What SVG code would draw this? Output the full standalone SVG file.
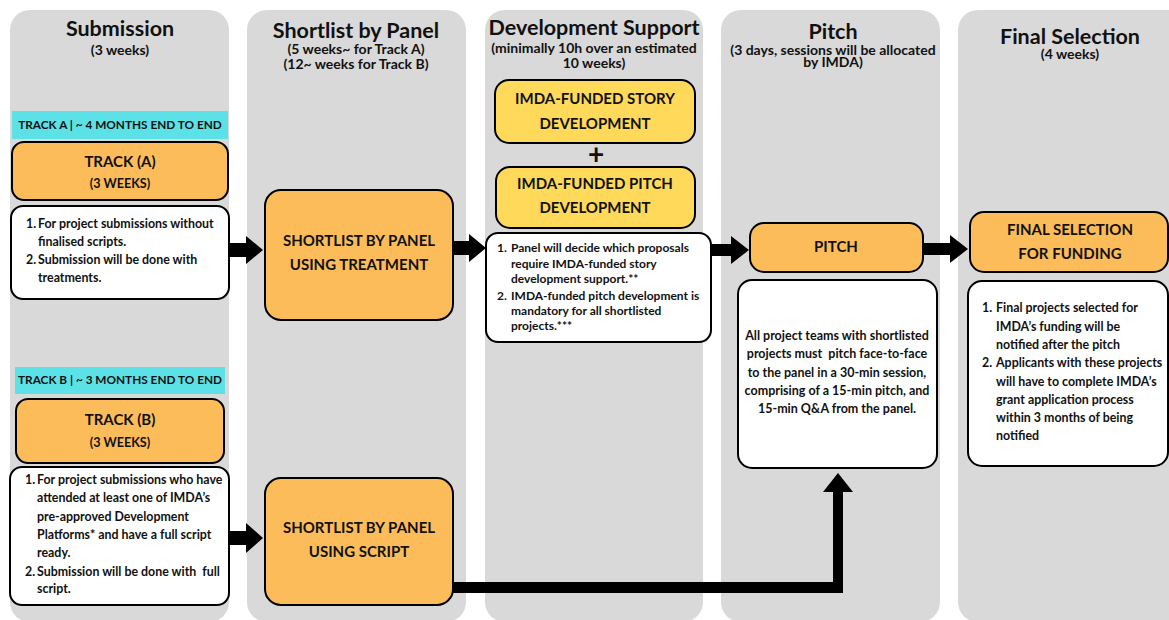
<svg xmlns="http://www.w3.org/2000/svg" width="1169" height="620" viewBox="0 0 1169 620">
<style>
text{font-family:Lato,"Liberation Sans",sans-serif;font-weight:700;fill:#111}
.col{fill:#d9d9d9}
.h{font-size:21.5px;text-anchor:middle}
.s{font-size:14px;text-anchor:middle}
.cy{fill:#5ce1e6}
.cyt{font-size:11.8px;text-anchor:middle}
.or{fill:#fcbc59;stroke:#000;stroke-width:2}
.ye{fill:#ffd95a;stroke:#000;stroke-width:2}
.wh{fill:#fff;stroke:#000;stroke-width:2}
.bt{font-size:15px;text-anchor:middle}
.bs{font-size:12.6px;text-anchor:middle}
.t{font-size:12.4px}
.td{font-size:12px}
.tc{font-size:12.5px;text-anchor:middle}
.ar{fill:#000}
</style>
<rect width="1169" height="620" fill="#fff"/>
<g id="columns">
<rect class="col" x="10" y="10" width="219" height="612" rx="20"/>
<rect class="col" x="247" y="10" width="219" height="612" rx="20"/>
<rect class="col" x="485" y="10" width="218" height="612" rx="20"/>
<rect class="col" x="721" y="10" width="219" height="612" rx="20"/>
<rect class="col" x="958" y="10" width="230" height="612" rx="20"/>
</g>
<g id="headers">
<text class="h" x="120" y="36">Submission</text>
<text class="s" x="120" y="55">(3 weeks)</text>
<text class="h" x="356" y="38">Shortlist by Panel</text>
<text class="s" x="356" y="54">(5 weeks~ for Track A)</text>
<text class="s" x="356" y="69">(12~ weeks for Track B)</text>
<text class="h" x="594" y="35">Development Support</text>
<text class="s" x="594" y="53">(minimally 10h over an estimated</text>
<text class="s" x="594" y="68">10 weeks)</text>
<text class="h" x="833" y="39">Pitch</text>
<text class="s" x="833" y="55">(3 days, sessions will be allocated</text>
<text class="s" x="833" y="67">by IMDA)</text>
<text class="h" x="1070" y="44">Final Selection</text>
<text class="s" x="1070" y="59">(4 weeks)</text>
</g>
<g id="trackA-label">
<rect class="cy" x="12" y="111" width="216" height="28"/>
<text class="cyt" x="120" y="129">TRACK A | ~ 4 MONTHS END TO END</text>
</g>
<g id="trackA">
<rect class="or" x="12" y="142" width="216" height="58" rx="12"/>
<text class="bt" x="120" y="167">TRACK (A)</text>
<text class="bs" x="120" y="188">(3 WEEKS)</text>
</g>
<g id="trackA-notes">
<rect class="wh" x="11" y="206" width="218" height="93" rx="12"/>
<text class="t" x="26" y="228">1.</text>
<text class="t" x="38" y="228">For project submissions without</text>
<text class="t" x="38" y="246">finalised scripts.</text>
<text class="t" x="26" y="264">2.</text>
<text class="t" x="38" y="264">Submission will be done with</text>
<text class="t" x="38" y="282">treatments.</text>
</g>
<g id="trackB-label">
<rect class="cy" x="15" y="367" width="210" height="27"/>
<text class="cyt" x="120" y="384">TRACK B | ~ 3 MONTHS END TO END</text>
</g>
<g id="trackB">
<rect class="or" x="16" y="399" width="208" height="64" rx="12"/>
<text class="bt" x="120" y="425">TRACK (B)</text>
<text class="bs" x="120" y="447">(3 WEEKS)</text>
</g>
<g id="trackB-notes">
<rect class="wh" x="10" y="467" width="219" height="138" rx="12"/>
<text class="t" x="25" y="484">1.</text>
<text class="t" x="37" y="484">For project submissions who have</text>
<text class="t" x="37" y="502">attended at least one of IMDA’s</text>
<text class="t" x="37" y="521">pre-approved Development</text>
<text class="t" x="37" y="539">Platforms* and have a full script</text>
<text class="t" x="37" y="557">ready.</text>
<text class="t" x="25" y="576">2.</text>
<text class="t" x="37" y="576" xml:space="preserve">Submission will be done with  full</text>
<text class="t" x="37" y="593">script.</text>
</g>
<g id="shortlist-treatment">
<rect class="or" x="265" y="190" width="188" height="130" rx="16"/>
<text class="bt" x="359" y="246">SHORTLIST BY PANEL</text>
<text class="bt" x="359" y="270">USING TREATMENT</text>
</g>
<g id="shortlist-script">
<rect class="or" x="265" y="478" width="188" height="127" rx="16"/>
<text class="bt" x="359" y="533">SHORTLIST BY PANEL</text>
<text class="bt" x="359" y="557">USING SCRIPT</text>
</g>
<g id="story-dev">
<rect class="ye" x="495" y="80" width="200" height="63" rx="14"/>
<text class="bt" x="595" y="104">IMDA-FUNDED STORY</text>
<text class="bt" x="595" y="129">DEVELOPMENT</text>
</g>
<g id="plus">
<text x="596" y="164" font-size="28" text-anchor="middle">+</text>
</g>
<g id="pitch-dev">
<rect class="ye" x="496" y="167" width="199" height="61" rx="14"/>
<text class="bt" x="595" y="189">IMDA-FUNDED PITCH</text>
<text class="bt" x="595" y="213">DEVELOPMENT</text>
</g>
<g id="dev-notes">
<rect class="wh" x="486" y="233" width="225" height="109" rx="12"/>
<text class="td" x="497" y="252">1.</text>
<text class="td" x="511" y="252">Panel will decide which proposals</text>
<text class="td" x="511" y="268">require IMDA-funded story</text>
<text class="td" x="511" y="283">development support.**</text>
<text class="td" x="497" y="300">2.</text>
<text class="td" x="511" y="300">IMDA-funded pitch development is</text>
<text class="td" x="511" y="315">mandatory for all shortlisted</text>
<text class="td" x="511" y="330">projects.***</text>
</g>
<g id="pitch">
<rect class="or" x="750" y="223" width="173" height="49" rx="14"/>
<text class="bt" x="836" y="252">PITCH</text>
</g>
<g id="pitch-notes">
<rect class="wh" x="738" y="280" width="199" height="188" rx="14"/>
<text class="tc" x="837" y="340">All project teams with shortlisted</text>
<text class="tc" x="837" y="358" xml:space="preserve">projects must  pitch face-to-face</text>
<text class="tc" x="837" y="377">to the panel in a 30-min session,</text>
<text class="tc" x="837" y="395">comprising of a 15-min pitch, and</text>
<text class="tc" x="837" y="413">15-min Q&amp;A from the panel.</text>
</g>
<g id="final">
<rect class="or" x="970" y="212" width="198" height="60" rx="14"/>
<text class="bt" x="1070" y="235">FINAL SELECTION</text>
<text class="bt" x="1070" y="259">FOR FUNDING</text>
</g>
<g id="final-notes">
<rect class="wh" x="968" y="281" width="200" height="185" rx="14"/>
<text class="t" x="982" y="312">1.</text>
<text class="t" x="996" y="312">Final projects selected for</text>
<text class="t" x="996" y="331">IMDA’s funding will be</text>
<text class="t" x="996" y="349">notified after the pitch</text>
<text class="t" x="982" y="367">2.</text>
<text class="t" x="996" y="367">Applicants with these projects</text>
<text class="t" x="996" y="386">will have to complete IMDA’s</text>
<text class="t" x="996" y="404">grant application process</text>
<text class="t" x="996" y="422">within 3 months of being</text>
<text class="t" x="996" y="440">notified</text>
</g>
<g id="connectors">
<polygon class="ar" points="229,243 246,243 246,236 263,250 246,264 246,257 229,257"/>
<polygon class="ar" points="453,241 469,241 469,234 486,248 469,262 469,255 453,255"/>
<polygon class="ar" points="711,244 731,244 731,236 749,250 731,264 731,256 711,256"/>
<polygon class="ar" points="923,243 950,243 950,235 968,249 950,263 950,255 923,255"/>
<polygon class="ar" points="229,531 246,531 246,523 263,538 246,553 246,545 229,545"/>
<polygon class="ar" points="453,582 833,582 833,492 823,492 838,473 853,492 843,492 843,593 453,593"/>
</g>
</svg>
